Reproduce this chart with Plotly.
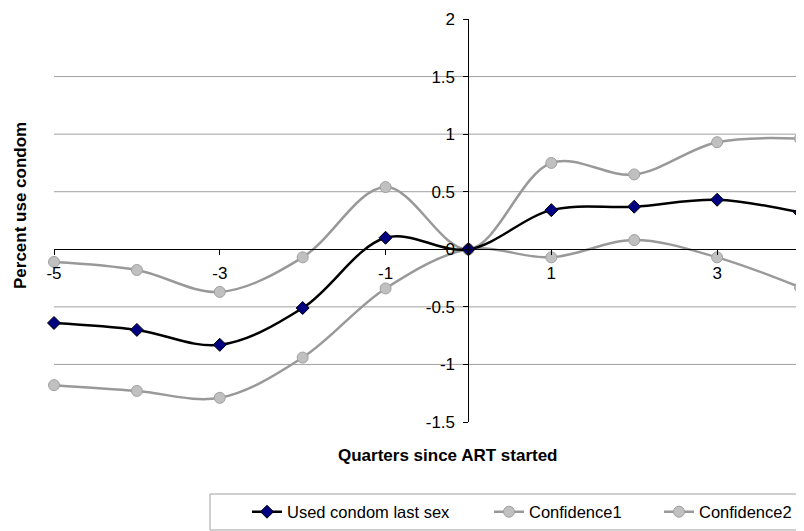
import plotly.graph_objects as go

quarters = [-5, -4, -3, -2, -1, 0, 1, 2, 3, 4]
used_condom = [-0.64, -0.70, -0.83, -0.51, 0.10, 0.0, 0.34, 0.37, 0.43, 0.32]
confidence1 = [-0.11, -0.18, -0.37, -0.07, 0.54, 0.0, 0.75, 0.65, 0.93, 0.96]
confidence2 = [-1.18, -1.23, -1.29, -0.94, -0.34, 0.0, -0.07, 0.08, -0.07, -0.33]

x_ticks = [-5, -3, -1, 1, 3]
y_ticks = [-1.5, -1, -0.5, 0, 0.5, 1, 1.5, 2]
grid_vals = [-1, -0.5, 0.5, 1, 1.5]

FONT = "Arial, Liberation Sans, sans-serif"
OFF = 8  # page body margin
W, H = 804 - OFF, 531 - OFF
# plot area in window pixels: x 54..800, y 19..422
L, T = 54 - OFF, 19 - OFF
R = W - (800 - OFF)
B = H - (422 - OFF)
PW, PH = W - L - R, H - T - B


def px(p):
    """window pixel x -> paper x"""
    return (p - OFF - L) / PW


def py(q):
    """window pixel y -> paper y"""
    return (H - B - (q - OFF)) / PH


fig = go.Figure()

fig.add_trace(go.Scatter(
    x=quarters, y=confidence1, name="Confidence1", mode="lines+markers",
    line=dict(color="#999999", width=2.5, shape="spline", smoothing=1),
    marker=dict(symbol="circle", size=11, color="#C0C0C0",
                line=dict(color="#A0A0A0", width=1)),
    cliponaxis=False, legend="legend2", showlegend=True))
fig.add_trace(go.Scatter(
    x=quarters, y=confidence2, name="Confidence2", mode="lines+markers",
    line=dict(color="#999999", width=2.5, shape="spline", smoothing=1),
    marker=dict(symbol="circle", size=11, color="#C0C0C0",
                line=dict(color="#A0A0A0", width=1)),
    cliponaxis=False, legend="legend3", showlegend=True))
fig.add_trace(go.Scatter(
    x=quarters, y=used_condom, name="Used condom last sex", mode="lines+markers",
    line=dict(color="#000000", width=2.5, shape="spline", smoothing=1),
    marker=dict(symbol="diamond", size=10, color="#000080",
                line=dict(color="#000000", width=1)),
    cliponaxis=False, legend="legend", showlegend=True))

shapes = []
for g in grid_vals:
    shapes.append(dict(type="line", xref="paper", yref="y", x0=0, x1=1, y0=g, y1=g,
                       line=dict(color="#A0A0A0", width=1), layer="below"))
shapes.append(dict(type="rect", xref="paper", yref="paper",
                   x0=px(210), x1=px(803), y0=py(494), y1=py(530),
                   line=dict(color="#A0A0A0", width=1), fillcolor="rgba(0,0,0,0)"))

legend_common = dict(orientation="h", yanchor="middle", xanchor="left",
                     font=dict(family=FONT, size=16.5, color="#000000"),
                     bgcolor="rgba(0,0,0,0)", borderwidth=0)

fig.update_layout(
    width=W, height=H,
    showlegend=True,
    margin=dict(l=L, r=R, t=T, b=B, autoexpand=False),
    paper_bgcolor="white", plot_bgcolor="white",
    font=dict(family=FONT, size=17, color="#000000"),
    xaxis=dict(range=[-5, 4], tickvals=x_ticks, ticktext=[str(v) for v in x_ticks],
               showgrid=False, zeroline=False, showline=True, linecolor="#000000",
               linewidth=1, ticks="outside", ticklen=5, tickcolor="#000000",
               anchor="free", position=1.5 / 3.5, ticklabelstandoff=3,
               ticklabeloverflow="allow",
               tickfont=dict(family=FONT, size=17, color="#000000")),
    yaxis=dict(range=[-1.5, 2], tickvals=y_ticks,
               ticktext=["-1.5", "-1", "-0.5", "0", "0.5", "1", "1.5", "2"],
               showgrid=False, zeroline=False, showline=True, linecolor="#000000",
               linewidth=1, ticks="outside", ticklen=5, tickcolor="#000000",
               anchor="free", position=5 / 9, ticklabelstandoff=5,
               ticklabeloverflow="allow",
               tickfont=dict(family=FONT, size=17, color="#000000")),
    shapes=shapes,
    legend=dict(x=px(247), y=py(512), **legend_common),
    legend2=dict(x=px(489), y=py(512), **legend_common),
    legend3=dict(x=px(659), y=py(512), **legend_common),
    annotations=[
        dict(text="<b>Quarters since ART started</b>", xref="paper", yref="paper",
             x=px(448), y=py(455), showarrow=False, xanchor="center", yanchor="middle",
             font=dict(family=FONT, size=17, color="#000000")),
        dict(text="<b>Percent use condom</b>", xref="paper", yref="paper",
             x=px(20), y=py(206), showarrow=False, xanchor="center", yanchor="middle",
             textangle=-90, font=dict(family=FONT, size=17, color="#000000")),
    ],
)

fig.write_html("out.html")
